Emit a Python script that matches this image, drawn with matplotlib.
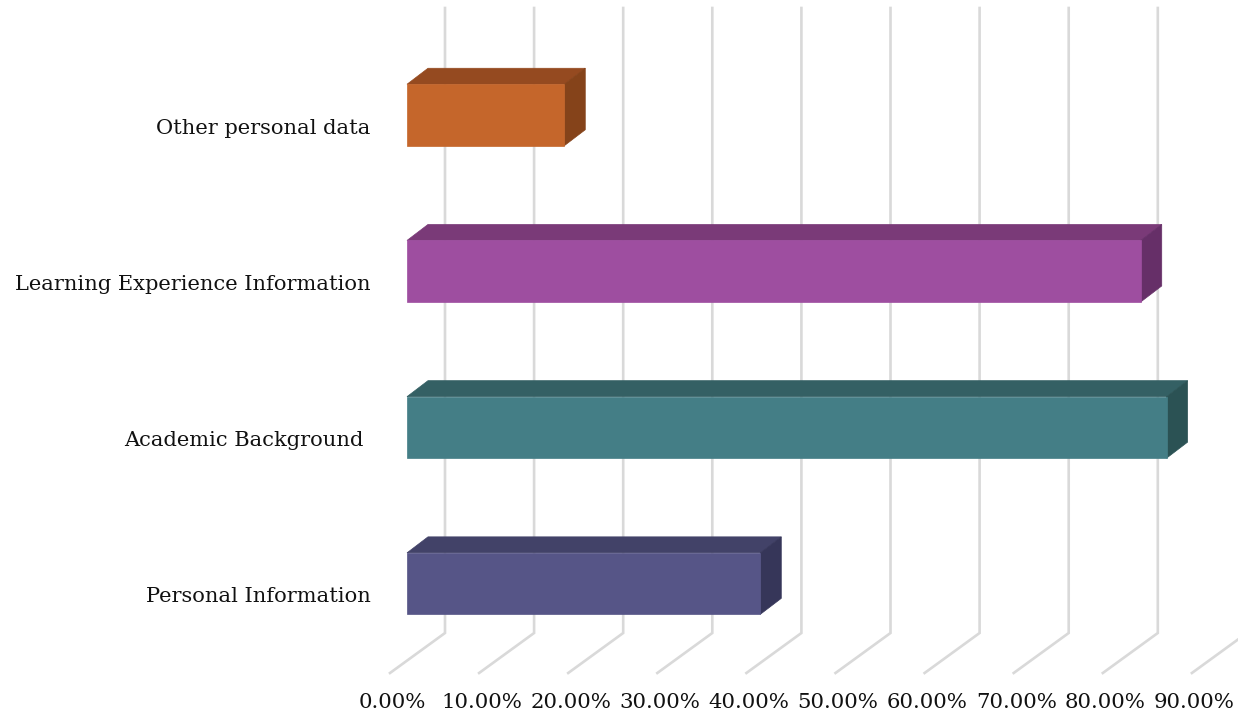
import matplotlib
matplotlib.use("Agg")
import matplotlib.pyplot as plt
from matplotlib.patches import Polygon

categories = ["Personal Information", "Academic Background ", "Learning Experience Information", "Other personal data"]
values = [39.65, 85.25, 82.35, 17.65]
front_colors = ["#565587", "#447E86", "#9E4EA0", "#C5662B"]
top_colors = ["#424268", "#346064", "#7A3A78", "#954A20"]
side_colors = ["#363659", "#2B5254", "#662F68", "#85431A"]
ticks = list(range(0, 100, 10))
tick_labels = [f"{t}.00%" for t in ticks]

W, H = 1238, 715
PX_X = 8.91        # px per percent
PX_Y = 156.2       # px per category
fig = plt.figure(figsize=(W / 100, H / 100), dpi=100, facecolor="white")
ax = fig.add_axes([0, 0, 1, 1])
x0_px, y0_px = 407, 583.6
ax.set_xlim(-x0_px / PX_X, (W - x0_px) / PX_X)
ax.set_ylim(-(H - y0_px) / PX_Y, y0_px / PX_Y)
ax.axis("off")

def dx(px): return px / PX_X
def dy(px): return px / PX_Y

font = "DejaVu Serif"
grid = "#D9D9D9"
bar_h = dy(61.5)
depth_x, depth_y = dx(21), dy(16)

# 3-D floor and wall gridlines
wall_x, wall_bottom, wall_top = dx(38), -dy(633 - y0_px), dy(y0_px - 8)
floor_x, floor_bottom = dx(-17), -dy(673 - y0_px)
for t, label in zip(ticks, tick_labels):
    ax.plot([t + floor_x, t + wall_x, t + wall_x], [floor_bottom, wall_bottom, wall_top],
            color=grid, lw=1.9, solid_joinstyle="miter", zorder=1)
    ax.text(t + floor_x + dx(2.5), -dy(703 - y0_px), label, ha="center", va="center",
            family=font, fontsize=15.3, color="#111111", zorder=5)

# 3-D bars
for i, (cat, v) in enumerate(zip(categories, values)):
    b, t = i - bar_h / 2, i + bar_h / 2
    ax.add_patch(Polygon([(0, t), (depth_x, t + depth_y), (v + depth_x, t + depth_y), (v, t)],
                         fc=top_colors[i], ec=top_colors[i], lw=0.5, zorder=3))
    ax.add_patch(Polygon([(v, b), (v + depth_x, b + depth_y), (v + depth_x, t + depth_y), (v, t)],
                         fc=side_colors[i], ec=side_colors[i], lw=0.5, zorder=3))
    ax.add_patch(Polygon([(0, b), (v, b), (v, t), (0, t)],
                         fc=front_colors[i], ec=front_colors[i], lw=0.5, zorder=4))
    ax.text(-dx(36.5), i - dy(13), cat, ha="right", va="center",
            family=font, fontsize=15.1, color="#111111", zorder=5)

fig.savefig("out.png", dpi=100)
